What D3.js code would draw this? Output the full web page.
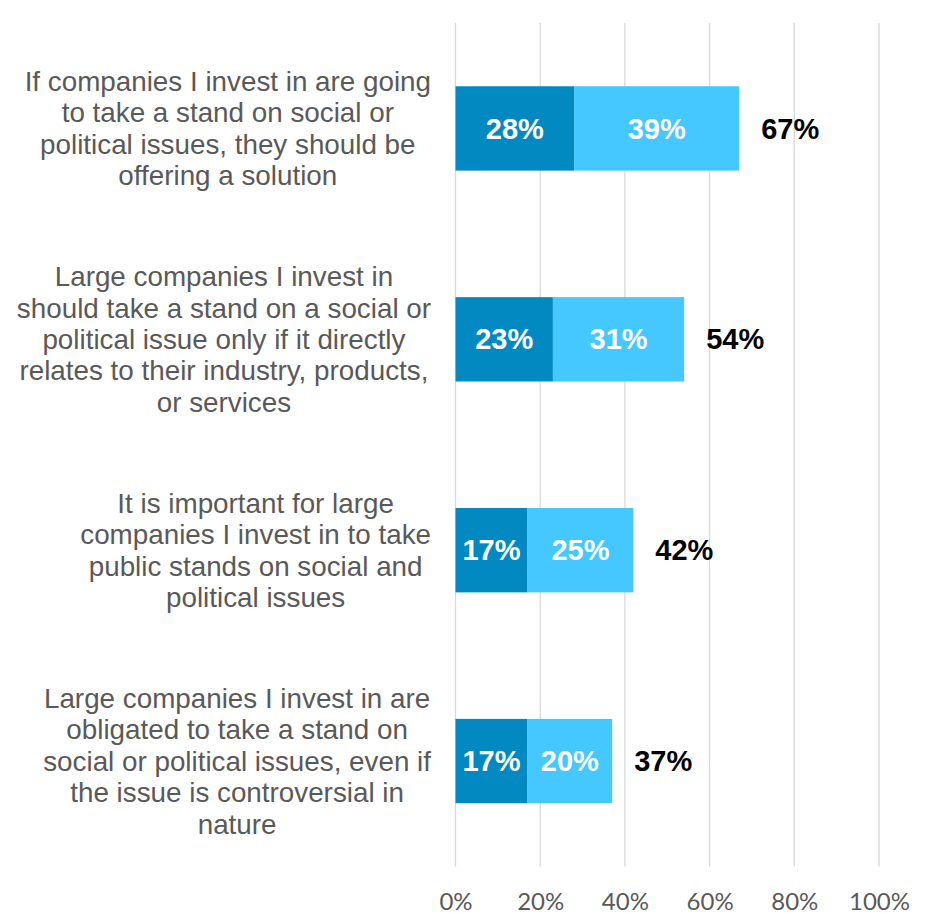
<!DOCTYPE html>
<html>
<head>
<meta charset="utf-8">
<script src="https://cdn.jsdelivr.net/npm/d3@7"></script>
<style>
  html, body { margin: 0; padding: 0; background: #ffffff; }
  svg { display: block; }
</style>
</head>
<body>
<div id="chart"></div>
<script>
// Survey statements, each wrapped into the lines shown beside its bar
const categories = [
  ["If companies I invest in are going", "to take a stand on social or", "political issues, they should be", "offering a solution"],
  ["Large companies I invest in", "should take a stand on a social or", "political issue only if it directly", "relates to their industry, products,", "or services"],
  ["It is important for large", "companies I invest in to take", "public stands on social and", "political issues"],
  ["Large companies I invest in are", "obligated to take a stand on", "social or political issues, even if", "the issue is controversial in", "nature"]
];
// Strongly agree / somewhat agree shares (percent)
const strongly = [28, 23, 17, 17];
const somewhat = [39, 31, 25, 20];
const totals = [67, 54, 42, 37];
const tickValues = [0, 20, 40, 60, 80, 100];
const tickLabels = ["0%", "20%", "40%", "60%", "80%", "100%"];

const W = 926, H = 914;
const plot = { left: 455.5, right: 879, top: 23, bottom: 866.5 };
const colors = { strong: "#0289C1", somewhat: "#44C8FF" };

const svg = d3.select("#chart").append("svg")
  .attr("width", W).attr("height", H);

const x = d3.scaleLinear().domain([0, 100]).range([plot.left, plot.right]);
const y = d3.scaleBand()
  .domain(d3.range(categories.length))
  .range([plot.top, plot.bottom])
  .paddingInner(0.6)
  .paddingOuter(0.3);

// Vertical gridlines
svg.append("g")
  .selectAll("line")
  .data(tickValues)
  .join("line")
  .attr("x1", d => x(d)).attr("x2", d => x(d))
  .attr("y1", plot.top).attr("y2", plot.bottom)
  .attr("stroke", "#D9D9D9")
  .attr("stroke-width", 1.3);

// Bottom axis labels
const xAxis = d3.axisBottom(x)
  .tickValues(tickValues)
  .tickFormat((d, i) => tickLabels[i])
  .tickSize(0)
  .tickPadding(0);
const axisG = svg.append("g")
  .attr("transform", `translate(0, ${plot.bottom})`)
  .call(xAxis);
axisG.select(".domain").remove();
axisG.selectAll("text")
  .attr("y", 43.5)
  .attr("dy", null)
  .attr("fill", "#595959")
  .style("font-family", "Lato, 'Open Sans', sans-serif")
  .style("font-size", "24px");

const rows = categories.map((c, i) => ({
  i, lines: c, s: strongly[i], m: somewhat[i], t: totals[i]
}));

// Stacked segments
const bars = svg.append("g");
bars.selectAll("rect.strong")
  .data(rows)
  .join("rect")
  .attr("class", "strong")
  .attr("x", x(0))
  .attr("y", d => y(d.i))
  .attr("width", d => x(d.s) - x(0))
  .attr("height", y.bandwidth())
  .attr("fill", colors.strong);
bars.selectAll("rect.somewhat")
  .data(rows)
  .join("rect")
  .attr("class", "somewhat")
  .attr("x", d => x(d.s))
  .attr("y", d => y(d.i))
  .attr("width", d => x(d.s + d.m) - x(d.s))
  .attr("height", y.bandwidth())
  .attr("fill", colors.somewhat);

const labelFont = "Arial, 'Liberation Sans', sans-serif";

// Values inside the segments
const inner = svg.append("g")
  .attr("font-family", labelFont)
  .attr("font-weight", "bold")
  .attr("font-size", "29px")
  .attr("fill", "#ffffff")
  .attr("text-anchor", "middle");
inner.selectAll("text.s")
  .data(rows)
  .join("text")
  .attr("class", "s")
  .attr("x", d => (x(0) + x(d.s)) / 2)
  .attr("y", d => y(d.i) + y.bandwidth() / 2)
  .attr("dy", "0.35em")
  .text(d => d.s + "%");
inner.selectAll("text.m")
  .data(rows)
  .join("text")
  .attr("class", "m")
  .attr("x", d => (x(d.s) + x(d.s + d.m)) / 2)
  .attr("y", d => y(d.i) + y.bandwidth() / 2)
  .attr("dy", "0.35em")
  .text(d => d.m + "%");

// Totals beside each bar
svg.append("g")
  .attr("font-family", labelFont)
  .attr("font-weight", "bold")
  .attr("font-size", "29px")
  .attr("fill", "#000000")
  .selectAll("text")
  .data(rows)
  .join("text")
  .attr("x", d => x(d.t) + 22)
  .attr("y", d => y(d.i) + y.bandwidth() / 2)
  .attr("dy", "0.35em")
  .text(d => d.t + "%");

// Category labels: block right-aligned to the plot, lines centred within it
const lineH = 31.4;
const catRight = 431;
const catG = svg.append("g")
  .attr("font-family", labelFont)
  .attr("font-size", "27.8px")
  .attr("fill", "#595959")
  .attr("text-anchor", "middle");
rows.forEach(r => {
  const g = catG.append("g");
  const cy = y(r.i) + y.bandwidth() / 2;
  const n = r.lines.length;
  const texts = g.selectAll("text")
    .data(r.lines)
    .join("text")
    .attr("y", (d, k) => cy + (k - (n - 1) / 2) * lineH)
    .attr("dy", "0.35em")
    .text(d => d);
  let maxW = 0;
  texts.each(function() { maxW = Math.max(maxW, this.getComputedTextLength()); });
  texts.attr("x", catRight - maxW / 2);
});
</script>
</body>
</html>
